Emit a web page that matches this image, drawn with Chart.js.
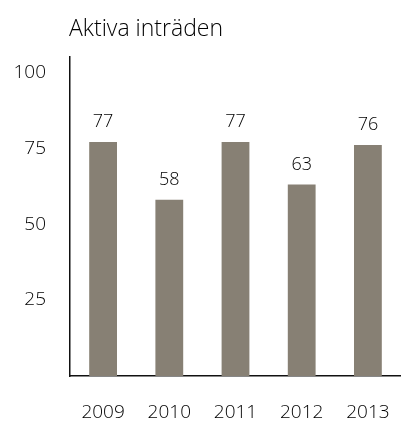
<!DOCTYPE html>
<html>
<head>
<meta charset="utf-8">
<script src="https://cdn.jsdelivr.net/npm/chart.js@4"></script>
<style>
  html, body { margin: 0; padding: 0; background: #fff; overflow: hidden; }
  #wrap { position: relative; width: 401px; height: 428px; }
</style>
</head>
<body>
<div id="wrap"><canvas id="chart"></canvas></div>
<script>
"use strict";

// data
const years = ['2009', '2010', '2011', '2012', '2013'];
const entries = [77, 58, 77, 63, 76];
const yTicks = [25, 50, 75, 100];
const chartTitle = 'Aktiva inträden';

const FONT = "'Open Sans', sans-serif";
const INK = '#000000';

// title above the plot and value labels above each bar
const labelsPlugin = {
  id: 'labels',
  afterDraw(chart) {
    const ctx = chart.ctx;
    ctx.save();
    ctx.fillStyle = INK;
    ctx.font = '300 23px ' + FONT;
    ctx.textAlign = 'left';
    ctx.textBaseline = 'alphabetic';
    ctx.fillText(chartTitle, chart.chartArea.left - 1, 36);

    ctx.font = '300 18px ' + FONT;
    ctx.textAlign = 'center';
    ctx.textBaseline = 'bottom';
    chart.getDatasetMeta(0).data.forEach((bar, i) => {
      ctx.fillText(String(entries[i]), bar.x, bar.y - 11);
    });
    ctx.restore();
  }
};

new Chart(document.getElementById('chart'), {
  type: 'bar',
  data: {
    labels: years,
    datasets: [{
      data: entries,
      backgroundColor: '#878074',
      barPercentage: 0.42,
      categoryPercentage: 1
    }]
  },
  options: {
    responsive: true,
    maintainAspectRatio: false,
    animation: false,
    layout: { padding: { top: 57, right: 0, left: 0, bottom: 0 } },
    plugins: {
      legend: { display: false },
      tooltip: { enabled: false }
    },
    scales: {
      x: {
        grid: { display: false, drawTicks: true, tickLength: 25 },
        border: { display: true, color: '#111', width: 1.5 },
        ticks: { color: INK, font: { family: FONT, size: 19, weight: '300' }, padding: 0, maxRotation: 0 },
        afterFit(scale) { scale.height = 52; }
      },
      y: {
        min: 0,
        max: 105,
        grid: { display: false, drawTicks: false },
        border: { display: true, color: '#111', width: 1.5 },
        afterBuildTicks(scale) { scale.ticks = yTicks.map(v => ({ value: v })); },
        ticks: { color: INK, font: { family: FONT, size: 19, weight: '300' }, padding: 24 },
        afterFit(scale) { scale.width = 70; }
      }
    }
  },
  plugins: [labelsPlugin]
});
</script>
</body>
</html>
